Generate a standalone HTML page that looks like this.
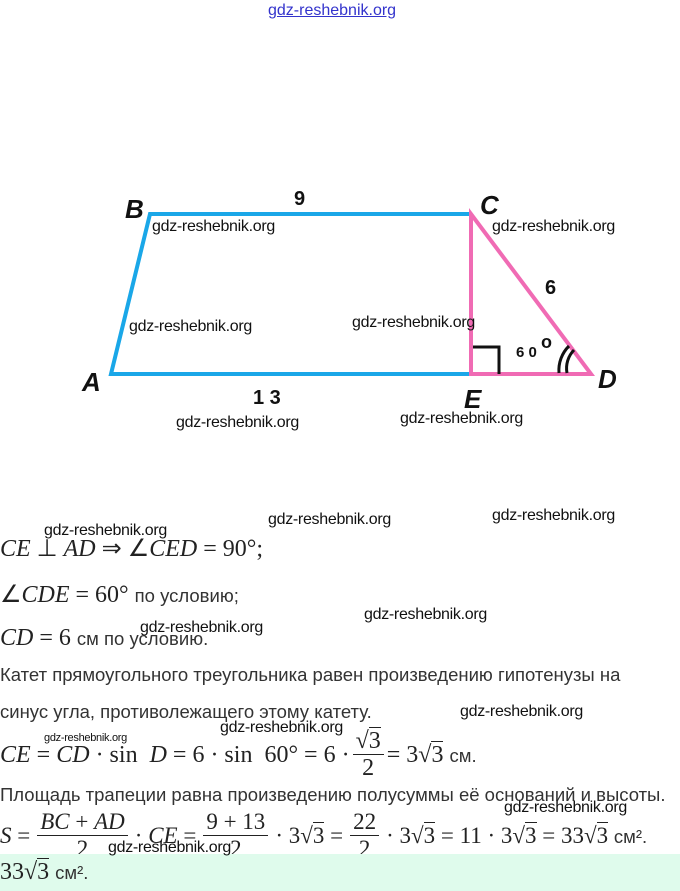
<!DOCTYPE html>
<html><head><meta charset="utf-8"><style>
body{margin:0;width:680px;height:891px;background:#fff;position:relative;overflow:hidden;font-family:"Liberation Sans",sans-serif}
.a{position:absolute;white-space:nowrap}
.m{font-family:"Liberation Serif",serif;font-size:24px;color:#222;line-height:26px}
.i{font-style:italic}
.t{font-family:"Liberation Sans",sans-serif;font-size:18.5px;color:#333}
.w{position:absolute;font-family:"Liberation Sans",sans-serif;font-size:16px;color:#111;white-space:nowrap;letter-spacing:-0.3px}
.fr{display:inline-flex;flex-direction:column;align-items:center;vertical-align:14px;line-height:26px;white-space:nowrap;margin:0 3px}
.s .fr{margin:0 7px}
.fr .n{border-bottom:1px solid #222;padding:0 3px}
.sq{border-top:1px solid #222}
</style></head><body>
<div class="a" style="left:268px;top:2px;font-size:16px;color:#33c;text-decoration:underline">gdz-reshebnik.org</div>

<svg class="a" style="left:0;top:0" width="680" height="460">
<polyline points="471,214 150,214 111,374 471,374" fill="none" stroke="#1aa7e8" stroke-width="4"/>
<polygon points="471,214 471,374 591,374" fill="none" stroke="#f06bb4" stroke-width="4"/>
<polyline points="473,347 499,347 499,374" fill="none" stroke="#111" stroke-width="3"/>
<path d="M567,373 A26,26 0 0 1 574,350" fill="none" stroke="#111" stroke-width="3"/>
<path d="M559,373 A34,34 0 0 1 569,346" fill="none" stroke="#111" stroke-width="3"/>
<g font-family="Liberation Sans,sans-serif" font-weight="bold" font-style="italic" font-size="26" fill="#111">
<text x="125" y="218">B</text><text x="480" y="214">C</text>
<text x="82" y="391">A</text><text x="464" y="408">E</text><text x="598" y="388">D</text></g>
<g font-family="Liberation Sans,sans-serif" font-weight="bold" font-size="20" fill="#111">
<text x="294" y="205">9</text><text x="545" y="294">6</text>
<text x="253" y="404">1 3</text></g>
<text x="516" y="357" font-family="Liberation Sans,sans-serif" font-weight="bold" font-size="15" fill="#111">6 0</text>
<text x="541" y="348" font-family="Liberation Sans,sans-serif" font-weight="bold" font-size="18" fill="#111">o</text>
</svg>

<div class="w" style="left:152px;top:218px">gdz-reshebnik.org</div>
<div class="w" style="left:492px;top:218px">gdz-reshebnik.org</div>
<div class="w" style="left:129px;top:318px">gdz-reshebnik.org</div>
<div class="w" style="left:352px;top:314px">gdz-reshebnik.org</div>
<div class="w" style="left:176px;top:414px">gdz-reshebnik.org</div>
<div class="w" style="left:400px;top:410px">gdz-reshebnik.org</div>

<div class="a m" style="left:0;top:536px"><span class="i">CE</span> ⊥ <span class="i">AD</span> ⇒ ∠<span class="i">CED</span> = 90°;</div>
<div class="a m" style="left:0;top:582px">∠<span class="i">CDE</span> = 60° <span class="t">по условию;</span></div>
<div class="a m" style="left:0;top:625px"><span class="i">CD</span> = 6 <span class="t">см по условию.</span></div>
<div class="a t" style="left:0;top:664px">Катет прямоугольного треугольника равен произведению гипотенузы на</div>
<div class="a t" style="left:0;top:701px">синус угла, противолежащего этому катету.</div>
<div class="a m" style="left:0;top:728px"><span class="i">CE</span> = <span class="i">CD</span> · sin &nbsp;<span class="i">D</span> = 6 · sin &nbsp;60° = 6 ·<span class="fr"><span class="n">√<span class="sq">3</span></span><span>2</span></span>= 3√<span class="sq">3</span> <span class="t">см.</span></div>
<div class="a t" style="left:0;top:784px">Площадь трапеции равна произведению полусуммы её оснований и высоты.</div>
<div class="a m s" style="left:0;top:809px;font-size:23px"><span class="i">S</span> =<span class="fr"><span class="n"><span class="i">BC</span> + <span class="i">AD</span></span><span>2</span></span>· <span class="i">CE</span> =<span class="fr"><span class="n">9 + 13</span><span>2</span></span>· 3√<span class="sq">3</span> =<span class="fr"><span class="n">22</span><span>2</span></span>· 3√<span class="sq">3</span> = 11 · 3√<span class="sq">3</span> = 33√<span class="sq">3</span> <span class="t">см².</span></div>

<div class="a" style="left:0;top:854px;width:680px;height:37px;background:#dffbec"></div>
<div class="a m" style="left:0;top:859px">33√<span class="sq">3</span> <span class="t">см².</span></div>

<div class="w" style="left:44px;top:522px">gdz-reshebnik.org</div>
<div class="w" style="left:268px;top:511px">gdz-reshebnik.org</div>
<div class="w" style="left:492px;top:507px">gdz-reshebnik.org</div>
<div class="w" style="left:364px;top:606px">gdz-reshebnik.org</div>
<div class="w" style="left:140px;top:619px">gdz-reshebnik.org</div>
<div class="w" style="left:460px;top:703px">gdz-reshebnik.org</div>
<div class="w" style="left:220px;top:719px">gdz-reshebnik.org</div>
<div class="w" style="left:44px;top:732px;font-size:11px">gdz-reshebnik.org</div>
<div class="w" style="left:504px;top:799px">gdz-reshebnik.org</div>
<div class="w" style="left:108px;top:839px">gdz-reshebnik.org</div>
</body></html>
